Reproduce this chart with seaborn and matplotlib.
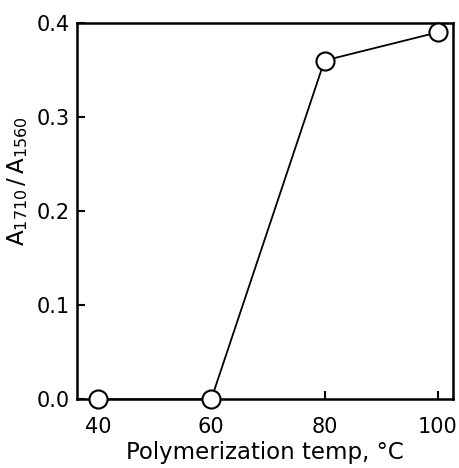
import matplotlib
matplotlib.use("Agg")
import matplotlib.pyplot as plt
import seaborn as sns
import pandas as pd

temps = [40, 60, 80, 100]
ratios = [0.0, 0.0, 0.36, 0.39]
xticks = [40, 60, 80, 100]
yticks = [0.0, 0.1, 0.2, 0.3, 0.4]

sns.set_theme(style="white")
plt.rcParams['font.family'] = ['DejaVu Sans']
plt.rcParams['mathtext.fontset'] = 'dejavusans'

df = pd.DataFrame({"temp": temps, "ratio": ratios})

fig = plt.figure(figsize=(4.59, 4.68), dpi=100)
ax = fig.add_axes([0.168, 0.147, 0.819, 0.804])
sns.lineplot(data=df, x="temp", y="ratio", ax=ax, color="black", linewidth=1.3,
             marker="o", markersize=13, markerfacecolor="white",
             markeredgecolor="black", markeredgewidth=1.5, clip_on=False, zorder=5)
ax.set_xlim(36.3, 102.7)
ax.set_ylim(0.0, 0.4)
ax.set_xticks(xticks)
ax.set_xticklabels([str(t) for t in xticks])
ax.set_yticks(yticks)
ax.set_yticklabels(["0.0", "0.1", "0.2", "0.3", "0.4"])
ax.tick_params(direction="in", length=6, width=1.5, colors="black", labelsize=15,
               bottom=True, left=True)
ax.tick_params(axis="x", pad=13)
ax.tick_params(axis="y", pad=5)
for s in ax.spines.values():
    s.set_color("black")
    s.set_linewidth(1.8)
ax.set_xlabel("Polymerization temp, °C", fontsize=16.5, color="black", labelpad=3)
ax.set_ylabel(r"$\mathrm{A}_{1710}\,/\,\mathrm{A}_{1560}$", fontsize=16.5, color="black")
ax.yaxis.set_label_coords(-0.125, 0.58)
fig.savefig("out.png", dpi=100, facecolor="white")
